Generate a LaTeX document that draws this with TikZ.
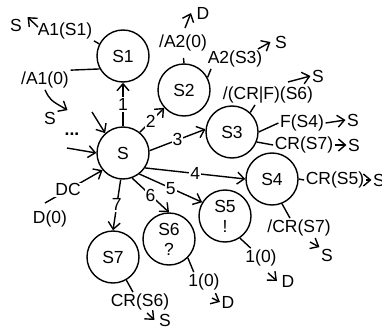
\documentclass[tikz,border=0pt]{standalone}
\usepackage{fontspec}
\setmainfont{Liberation Sans}
\usetikzlibrary{arrows.meta}
\begin{document}
\begin{tikzpicture}[x=1pt,y=-1pt,line width=1.4pt,
  st/.style={circle,draw,minimum size=52pt,inner sep=0pt,align=center,font=\fontsize{17.5}{22}\selectfont},
  lbl/.style={inner sep=1pt,font=\fontsize{17.5}{18}\selectfont},
  el/.style={fill=white,inner sep=1pt,font=\fontsize{17.5}{18}\selectfont},
  arr/.style={-{Straight Barb[length=7pt,width=12pt]}},
  tick/.style={line width=1.4pt}]
\useasboundingbox (0,0) rectangle (382,326);
% states
\node[st] (S) at (123,153) {S};
\node[st] (S1) at (123,56) {S1};
\node[st] (S2) at (184,90) {S2};
\node[st] (S3) at (232,132) {S3};
\node[st] (S4) at (272,179) {S4};
\node[st] (S5) at (225,216) {S5\\[-2pt]!};
\node[st] (S6) at (169,239) {S6\\[-2pt]?};
\node[st] (S7) at (113,257) {S7};
% transitions from S
\draw[arr] (S.north) -- node[el]{1} (S1.south);
\draw[arr] (S.51) -- node[el,pos=0.45]{2} (S2.222);
\draw[arr] (S.5) -- node[el,pos=0.5]{3} (S3.174);
\draw[arr] (S.-34) -- node[el,pos=0.5]{4} (S4.west);
\draw[arr] (S.-52) -- node[el,pos=0.5]{5} (S5.149);
\draw[arr] (S.-70) -- node[el,pos=0.5]{6} (S6.north);
\draw[arr] (S.265) -- node[el,pos=0.5]{7} (S7.north);
% incoming to S
\node[lbl,font=\bfseries\fontsize{17.5}{18}\selectfont] (dots) at (72,134) {...};
\coordinate (in1) at (92,112);
\coordinate (in2) at (67,148);
\coordinate (in3) at (45,203);
\draw[arr] (in1) -- (S.132);
\draw[arr] (in2) -- (S.west);
\draw[arr] (in3) -- node[el,pos=0.4]{DC} (S.220);
\node[lbl] (d0) at (50,219) {D(0)};
% S1 outputs
\node[lbl] (sA) at (16,25) {S};
\node[lbl] (lA1S1) at (65,31) {A1(S1)};
\draw[tick] (S1.153) -- (lA1S1.south east);
\coordinate (cA) at (38,27);
\draw[arr] (cA) -- ([xshift=4pt]sA.north east);
\node[lbl] (lA10) at (45,80) {/A1(0)};
\draw[tick] (S1.209) -- (lA10.north east);
\node[lbl] (sB) at (50,118) {S};
\draw[arr] (lA10.south) .. controls (50,100) .. ([xshift=10pt]sB.north east);
% S2 outputs
\node[lbl] (lA20) at (183,43) {/A2(0)};
\draw[tick,shorten >=5pt] (S2.north) -- (lA20.south);
\node[lbl] (D1) at (203,13) {D};
\coordinate (cD1) at (185,28);
\draw[arr] (cD1) -- ([xshift=-4pt]D1.west);
\node[lbl] (lA2S3) at (235,59) {A2(S3)};
\draw[tick] (S2.28) -- ([xshift=5pt]lA2S3.south west);
\node[lbl] (sC) at (281,42) {S};
\coordinate (cC) at (258,49);
\draw[arr] (cC) -- ([xshift=-3pt]sC.west);
% S3 outputs
\node[lbl] (lCRF) at (268,95) {/(CR|F)(S6)};
\draw[tick] (S3.47) -- ([xshift=-13pt]lCRF.south);
\node[lbl] (sD) at (318,76) {S};
\coordinate (cDd) at (288,82);
\draw[arr] (cDd) -- (sD.west);
\node[lbl] (lFS4) at (302,123) {F(S4)};
\draw[tick] (S3.east) -- (lFS4.west);
\node[lbl] (sE) at (353,120) {S};
\draw[arr] (lFS4.east) -- (sE.west);
\node[lbl] (lCRS7) at (304,145) {CR(S7)};
\draw[tick] (S3.-22) -- (lCRS7.west);
\node[lbl] (sF) at (354,145) {S};
\draw[arr] (lCRS7.east) -- (sF.west);
% S4 outputs
\node[lbl] (lCRS5) at (335,180) {CR(S5)};
\draw[tick] (S4.east) -- (lCRS5.west);
\node[lbl] (sG) at (379,180) {S};
\draw[arr] (lCRS5.east) -- (sG.west);
\node[lbl] (lCRS7b) at (299,228) {/CR(S7)};
\draw[tick] (S4.-68) -- ([xshift=-9pt]lCRS7b.north);
\node[lbl] (sH) at (327,255) {S};
\coordinate (cH) at (310,242);
\draw[arr] (cH) -- (sH.north west);
% S5 outputs
\node[lbl] (l10a) at (261,258) {1(0)};
\draw[tick] (S5.-56) -- ([xshift=7pt]l10a.north west);
\node[lbl] (D2) at (288,281) {D};
\coordinate (cD2) at (268,273);
\draw[arr] (cD2) -- ([xshift=-3pt]D2.west);
% S6 outputs
\node[lbl] (l10b) at (204,282) {1(0)};
\draw[tick] (S6.-45) -- ([xshift=7pt]l10b.north west);
\node[lbl] (D3) at (228,302) {D};
\coordinate (cD3) at (212,298);
\draw[arr] (cD3) -- (D3.west);
% S7 outputs
\node[lbl] (lCRS6) at (140,302) {CR(S6)};
\draw[tick] (S7.-60) -- ([xshift=-7pt]lCRS6.north);
\node[lbl] (sI) at (165,320) {S};
\coordinate (cI) at (147,313);
\draw[arr] (cI) -- ([xshift=-3pt]sI.west);
\end{tikzpicture}
\end{document}
